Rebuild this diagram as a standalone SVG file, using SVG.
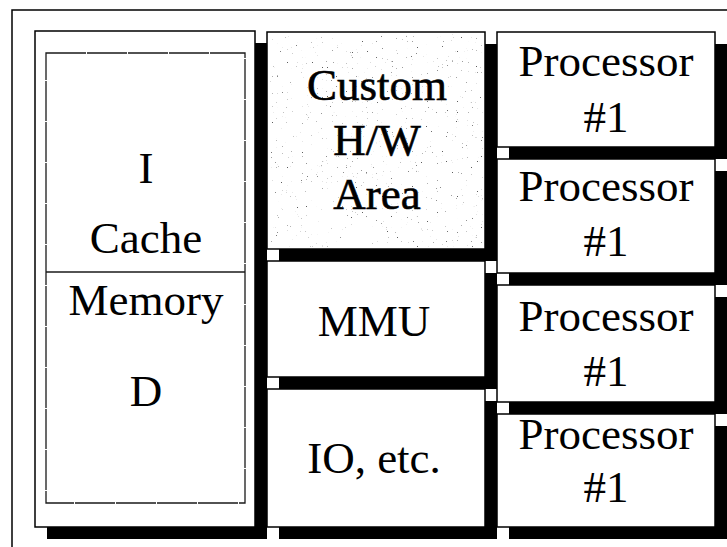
<svg xmlns="http://www.w3.org/2000/svg" width="727" height="547" viewBox="0 0 727 547">
  <style>
    .frame { fill: none; stroke: #000; stroke-width: 1.5; }
    .shadow { fill: #000; }
    .box { fill: #fff; stroke: #000; stroke-width: 1.5; }
    .inner { fill: none; stroke: #1a1a1a; stroke-width: 1.3; stroke-dasharray: 40 1; }
    .lbl { font-family: "Liberation Serif", "Times New Roman", serif; font-size: 45px; fill: #000; text-anchor: middle; }
    .heavy { stroke: #000; stroke-width: 0.6; }
  </style>
  <defs>
    <!-- sparse dark dots for the custom hardware area -->
    <filter id="speckle" x="0" y="0" width="1" height="1" color-interpolation-filters="sRGB">
      <feTurbulence type="fractalNoise" baseFrequency="0.8" numOctaves="1" seed="7" result="noise"/>
      <feColorMatrix in="noise" type="matrix" values="0 0 0 0 0.1  0 0 0 0 0.1  0 0 0 0 0.1  14 0 0 0 -9.9"/>
    </filter>
  </defs>

  <rect width="727" height="547" fill="#fff"/>

  <!-- outer frame (top and left edges) -->
  <path class="frame" d="M12 547 V10 H727"/>

  <!-- memory block: I cache over D cache -->
  <g id="memory">
    <rect class="shadow" x="47" y="43" width="220" height="496"/>
    <rect class="box" x="35" y="31" width="220" height="496"/>
    <rect class="inner" x="46" y="53" width="199" height="450"/>
    <line x1="46" y1="272" x2="245" y2="272" stroke="#1a1a1a" stroke-width="1.3"/>
    <text class="lbl" x="146" y="183">I</text>
    <text class="lbl" x="146" y="253">Cache</text>
    <text class="lbl" x="146" y="315">Memory</text>
    <text class="lbl" x="146" y="406">D</text>
  </g>

  <!-- custom hardware area -->
  <g id="custom-hw">
    <rect class="shadow" x="279" y="44" width="218" height="217"/>
    <rect class="box" x="267" y="32" width="218" height="217" fill="#fcfcfc"/>
    <rect x="269" y="34" width="214" height="213" filter="url(#speckle)" opacity="0.7"/>
    <text class="lbl heavy" x="377" y="100">Custom</text>
    <text class="lbl heavy" x="377" y="155">H/W</text>
    <text class="lbl heavy" x="377" y="209">Area</text>
  </g>

  <!-- MMU -->
  <g id="mmu">
    <rect class="shadow" x="279" y="273" width="218" height="116"/>
    <rect class="box" x="267" y="261" width="218" height="116"/>
    <text class="lbl" x="374" y="336">MMU</text>
  </g>

  <!-- IO and other peripherals -->
  <g id="io">
    <rect class="shadow" x="279" y="401" width="218" height="138"/>
    <rect class="box" x="267" y="389" width="218" height="138"/>
    <text class="lbl" x="374" y="473">IO, etc.</text>
  </g>

  <!-- processor column -->
  <g id="processor-1">
    <rect class="shadow" x="509" y="44" width="218" height="115"/>
    <rect class="box" x="497" y="32" width="218" height="115"/>
    <text class="lbl" x="606" y="76">Processor</text>
    <text class="lbl" x="606" y="132">#1</text>
  </g>
  <g id="processor-2">
    <rect class="shadow" x="509" y="171" width="218" height="114"/>
    <rect class="box" x="497" y="159" width="218" height="114"/>
    <text class="lbl" x="606" y="201">Processor</text>
    <text class="lbl" x="606" y="256">#1</text>
  </g>
  <g id="processor-3">
    <rect class="shadow" x="509" y="297" width="218" height="117"/>
    <rect class="box" x="497" y="285" width="218" height="117"/>
    <text class="lbl" x="606" y="331">Processor</text>
    <text class="lbl" x="606" y="386">#1</text>
  </g>
  <g id="processor-4">
    <rect class="shadow" x="509" y="426" width="218" height="113"/>
    <rect class="box" x="497" y="414" width="218" height="113"/>
    <text class="lbl" x="606" y="449">Processor</text>
    <text class="lbl" x="606" y="502">#1</text>
  </g>

  <g id="connectors"/>
</svg>
